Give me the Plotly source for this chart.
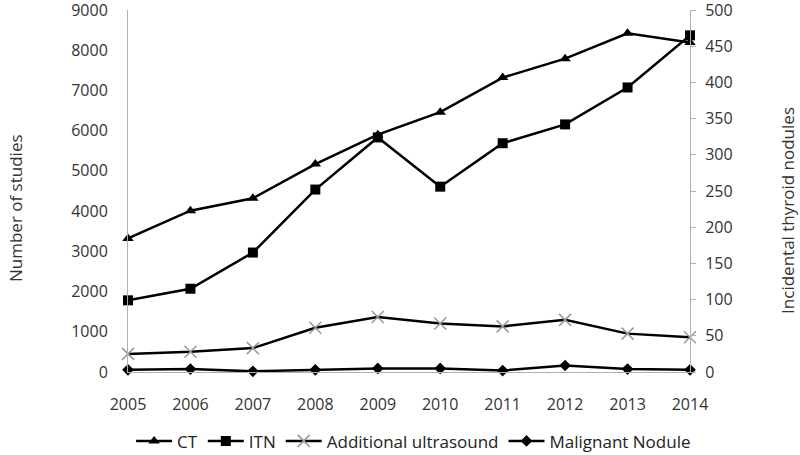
import plotly.graph_objects as go

# values
years = [2005, 2006, 2007, 2008, 2009, 2010, 2011, 2012, 2013, 2014]
ct_studies = [3320, 4010, 4320, 5170, 5900, 6460, 7320, 7790, 8420, 8190]
itn = [99, 115, 165, 252, 324, 256, 316, 342, 393, 465]
additional_us = [25, 28, 33, 61, 76, 67, 63, 72, 53, 48]
malignant = [3, 4, 1, 3, 5, 5, 2, 9, 4, 3]

left_ticks = list(range(0, 9001, 1000))
right_ticks = list(range(0, 501, 50))

font = "Open Sans, DejaVu Sans, sans-serif"
black = "#000000"
text_col = "#333333"

fig = go.Figure()

fig.add_trace(go.Scatter(
    x=years, y=ct_studies, name="CT", mode="lines+markers",
    line=dict(color=black, width=2.5),
    marker=dict(symbol="triangle-up", size=10, color=black),
    cliponaxis=False, yaxis="y",
))
fig.add_trace(go.Scatter(
    x=years, y=itn, name="ITN", mode="lines+markers",
    line=dict(color=black, width=2.5),
    marker=dict(symbol="square", size=10, color=black),
    cliponaxis=False, yaxis="y2",
))
fig.add_trace(go.Scatter(
    x=years, y=additional_us, name="Additional ultrasound", mode="lines+markers",
    line=dict(color=black, width=2.5),
    marker=dict(symbol="x-thin-open", size=12, color="#999999",
                line=dict(color="#999999", width=1.5)),
    cliponaxis=False, yaxis="y2",
))
fig.add_trace(go.Scatter(
    x=years, y=malignant, name="Malignant Nodule", mode="lines+markers",
    line=dict(color=black, width=2.5),
    marker=dict(symbol="diamond", size=9, color=black),
    cliponaxis=False, yaxis="y2",
))

# axis titles sit a little below the middle of the plot, as in the original
fig.add_annotation(text="Number of studies", textangle=-90, showarrow=False,
                   xref="paper", yref="paper", x=0, y=0.453, xshift=-113,
                   xanchor="center", yanchor="middle",
                   font=dict(size=17, color=text_col))
fig.add_annotation(text="Incidental thyroid nodules", textangle=-90, showarrow=False,
                   xref="paper", yref="paper", x=1, y=0.445, xshift=98,
                   xanchor="center", yanchor="middle",
                   font=dict(size=17, color=text_col))

fig.update_layout(
    width=800, height=455,
    margin=dict(l=128, r=110, t=10, b=83, autoexpand=False),
    paper_bgcolor="white", plot_bgcolor="white",
    font=dict(family=font, size=16, color=text_col),
    showlegend=True,
    legend=dict(orientation="h", xref="container", x=0.517, xanchor="center",
                yref="container", y=0.03, yanchor="middle",
                font=dict(size=17, color="#222222"),
                traceorder="normal", tracegroupgap=0, itemwidth=36),
    xaxis=dict(
        range=[2005, 2014], tickmode="array", tickvals=years,
        showgrid=False, zeroline=False, showline=True, automargin=False,
        linecolor="#b0b0b0", linewidth=1, ticks="",
        ticklabelstandoff=18, ticklabeloverflow="allow",
        tickfont=dict(size=16, color=text_col),
    ),
    yaxis=dict(
        range=[0, 9000], tickmode="array", tickvals=left_ticks,
        showgrid=False, zeroline=False, showline=True, automargin=False,
        linecolor="#b0b0b0", linewidth=1, ticks="",
        ticklabelstandoff=16, ticklabeloverflow="allow",
        tickfont=dict(size=16, color=text_col),
    ),
    yaxis2=dict(
        range=[0, 500], tickmode="array", tickvals=right_ticks,
        overlaying="y", side="right", automargin=False,
        showgrid=False, zeroline=False, showline=True,
        linecolor="#b0b0b0", linewidth=1,
        ticks="outside", ticklen=5, tickcolor="#b0b0b0",
        ticklabelstandoff=6, ticklabeloverflow="allow",
        tickfont=dict(size=16, color=text_col),
    ),
)

# drop the page's default body margin so the figure sits at the window corner
fig.write_html("out.html", config={"displayModeBar": False},
               post_script="document.body.style.margin = '0';")
